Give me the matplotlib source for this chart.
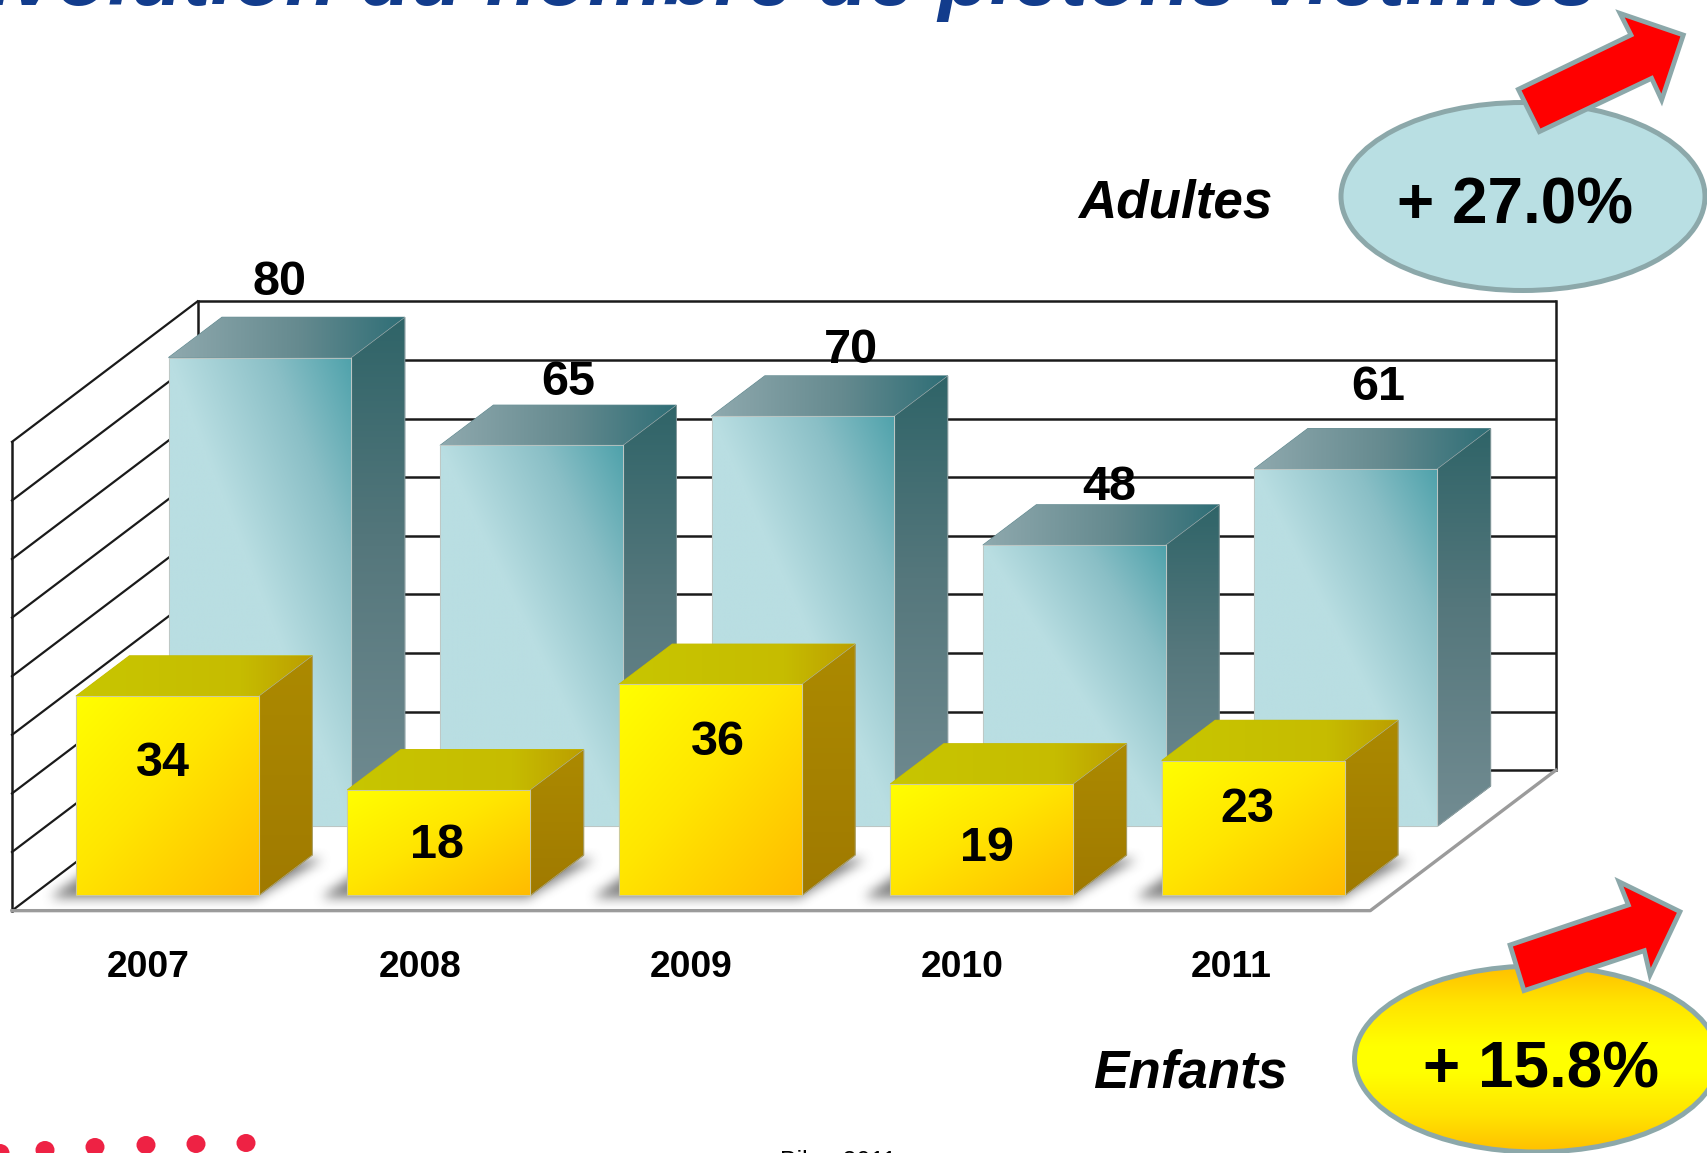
import numpy as np
import matplotlib
matplotlib.use("Agg")
import matplotlib.pyplot as plt
from matplotlib.patches import Polygon, Ellipse
from matplotlib.colors import to_rgb

FONT = "Liberation Sans"
plt.rcParams["font.family"] = [FONT, "DejaVu Sans"]

years = ["2007", "2008", "2009", "2010", "2011"]
adultes = [80, 65, 70, 48, 61]
enfants = [34, 18, 36, 19, 23]
grid_values = [0, 10, 20, 30, 40, 50, 60, 70, 80]

# label nudges in pixels (right, up)
adult_label_dx = [20, 37, 48, 35, 32]
adult_label_dy = [75, 63, 66, 58, 81]
child_label_dx = [-4, -2, 8, 5, -6]
child_label_dy = [-67, -56, -58, -64, -49]
year_label_dx = [-19, -19, -19, -20, -22]

W, H = 1708, 1153
PX_CAT = 271.45         # pixels per category
PX_VAL = 5.86           # pixels per value unit
X0, Y0 = 167.4, 895.4   # pixel of category 0 / value 0 on the front plane

BAR_W = 182.8 / PX_CAT
BAR_DX = 53.4 / PX_CAT
BAR_DY = 40.3 / PX_VAL
ADULT_DX = 92.6 / PX_CAT
ADULT_DY = 69.0 / PX_VAL
WALL_DX = 185.6 / PX_CAT
WALL_DY = 140.5 / PX_VAL
FLOOR_Y = -15.25 / PX_VAL
FLOOR_L = (12 - X0) / PX_CAT
FLOOR_R = (1370.3 - X0) / PX_CAT

fig = plt.figure(figsize=(W / 100, H / 100), dpi=100, facecolor="white")
ax = fig.add_axes([0, 0, 1, 1])
ax.axis("off")
xlim = (-X0 / PX_CAT, (W - X0) / PX_CAT)
ylim = ((Y0 - H) / PX_VAL, Y0 / PX_VAL)


def ramp(t, stops):
    pos = [s[0] for s in stops]
    rgb = np.array([to_rgb(s[1]) for s in stops])
    return np.dstack([np.interp(t, pos, rgb[:, k]) for k in range(3)])


def fill(axis, pts, fn, stops, z, edge=None, lw=0.0):
    pts = np.asarray(pts, dtype=float)
    x0, y0 = pts.min(axis=0)
    x1, y1 = pts.max(axis=0)
    u, v = np.meshgrid(np.linspace(0, 1, 256), np.linspace(1, 0, 256))
    rgb = ramp(fn(u, v), stops)
    # opaque underlay so nothing bleeds through the antialiased clip edge
    axis.add_patch(Polygon(pts, closed=True, fc=rgb.mean(axis=(0, 1)), ec=rgb.mean(axis=(0, 1)),
                           lw=0.8, zorder=z - 0.005))
    im = axis.imshow(rgb, extent=(x0, x1, y0, y1), aspect="auto",
                     zorder=z, interpolation="bilinear")
    patch = Polygon(pts, closed=True, fc="none", ec=edge or "none", lw=lw, zorder=z + 0.01)
    axis.add_patch(patch)
    im.set_clip_path(patch)


def box(x, base, val, z, front, side, top):
    l, r = x, x + BAR_W
    b, t = base, base + val
    fill(ax, [(r, b), (r + BAR_DX, b + BAR_DY), (r + BAR_DX, t + BAR_DY), (r, t)],
         lambda u, v: v, side, z, "#a8b0b0", 0.4)
    fill(ax, [(l, t), (r, t), (r + BAR_DX, t + BAR_DY), (l + BAR_DX, t + BAR_DY)],
         top[0], top[1], z)
    fill(ax, [(l, b), (r, b), (r, t), (l, t)], front[0], front[1], z + 0.02, "#c0c4c0", 0.6)


# walls and floor
back_l = FLOOR_L + WALL_DX
back_r = FLOOR_R + WALL_DX
back_b = FLOOR_Y + WALL_DY
for g in grid_values:
    ax.plot([back_l, back_r], [back_b + g] * 2, color="#1a1a1a", lw=1.8, zorder=1, solid_capstyle="butt")
    ax.plot([FLOOR_L, back_l], [FLOOR_Y + g, back_b + g], color="#1a1a1a", lw=1.6, zorder=1)
top_g = grid_values[-1]
ax.plot([FLOOR_L, FLOOR_L], [FLOOR_Y, FLOOR_Y + top_g], color="#1a1a1a", lw=1.8, zorder=1)
ax.plot([back_l, back_l], [back_b, back_b + top_g], color="#1a1a1a", lw=1.8, zorder=1)
ax.plot([back_r, back_r], [back_b, back_b + top_g], color="#1a1a1a", lw=1.8, zorder=1)
ax.plot([FLOOR_L, FLOOR_R, back_r], [FLOOR_Y, FLOOR_Y, back_b], color="#9b9b9b", lw=2.4, zorder=1.1)

# adult bars
adult_front = (lambda u, v: (u + v) / 2, [(0, "#B9DEE2"), (0.5, "#B9DEE2"), (0.78, "#8ABFC6"), (1, "#4FA2AB")])
adult_side = [(0, "#728C92"), (0.55, "#55777C"), (1, "#2F6468")]
adult_top = (lambda u, v: u, [(0, "#8FA9AE"), (0.55, "#658A8F"), (1, "#2E6E76")])
for i, v in enumerate(adultes):
    box(i - BAR_W / 2 + ADULT_DX, ADULT_DY, v, 2 + i * 0.1, adult_front, adult_side, adult_top)
    ax.annotate(str(v), (i + ADULT_DX, ADULT_DY + v),
                xytext=(adult_label_dx[i], adult_label_dy[i]), textcoords="offset pixels",
                ha="center", va="center", fontsize=35, fontweight="bold", color="black", zorder=3)


# soft shadow beneath the child bars
def shadow(x):
    px_w = BAR_W * PX_CAT
    px_dx, px_dy = BAR_DX * PX_CAT, BAR_DY * PX_VAL
    pad = 30
    nx, ny = int(px_w + px_dx + 2 * pad + 60), int(px_dy + 2 * pad)
    xs, ys = np.meshgrid(np.arange(nx) - pad - 30.0, pad - np.arange(ny) + px_dy)
    h = np.clip(ys, 0, px_dy)
    inner = (ys >= -2) & (ys <= px_dy - 4)
    inner &= xs >= -24 + h * 1.4
    inner &= xs <= px_w + h * 1.33 + 16 * h / px_dy
    m = inner.astype(float)
    kernel = np.ones(13) / 13
    for _ in range(2):
        m = np.apply_along_axis(lambda r: np.convolve(r, kernel, "same"), 0, m)
        m = np.apply_along_axis(lambda r: np.convolve(r, kernel, "same"), 1, m)
    img = np.zeros((ny, nx, 4))
    img[..., :3] = 0.42
    img[..., 3] = m * 0.85
    ax.imshow(img, extent=(x + (-pad - 30) / PX_CAT, x + (nx - pad - 30) / PX_CAT,
                           (pad + px_dy - ny) / PX_VAL, (pad + px_dy) / PX_VAL),
              aspect="auto", zorder=2.8, interpolation="bilinear")


child_front = (lambda u, v: (u + 1 - v) / 2, [(0, "#FFFF00"), (0.45, "#FFE600"), (1, "#FFBB00")])
child_side = [(0, "#A07A00"), (1, "#AC8A00")]
child_top = (lambda u, v: u, [(0, "#C8C600"), (0.7, "#C6BC00"), (1, "#BC9E00")])
for i, v in enumerate(enfants):
    shadow(i - BAR_W / 2)
for i, v in enumerate(enfants):
    box(i - BAR_W / 2, 0, v, 4 + i * 0.1, child_front, child_side, child_top)
    ax.annotate(str(v), (i, v), xytext=(child_label_dx[i], child_label_dy[i]),
                textcoords="offset pixels", ha="center", va="center", fontsize=35,
                fontweight="bold", color="black", zorder=6)

for i, y in enumerate(years):
    ax.annotate(y, (i, FLOOR_Y), xytext=(year_label_dx[i], -57), textcoords="offset pixels", ha="center",
                va="center", fontsize=26.8, fontweight="bold", color="black", zorder=6)
ax.set_xlim(*xlim)
ax.set_ylim(*ylim)

# overlay in pixel coordinates for the slide furniture
ov = fig.add_axes([0, 0, 1, 1], facecolor="none")
ov.axis("off")

EDGE = "#8CA8AA"
ov.add_patch(Ellipse((1523, 196.5), 364, 188, fc="#B9DFE3", ec=EDGE, lw=3.6, zorder=2))
# child ellipse with vertical gradient
cx, cy, a, b = 1536.5, 1059, 182, 93
im = ov.imshow(ramp(np.abs(np.linspace(-1, 1, 256))[:, None] * np.ones((256, 4)),
                    [(0, "#FFFF00"), (0.15, "#FFFF00"), (0.6, "#FFE400"), (1, "#FFC000")]),
               extent=(cx - a, cx + a, cy + b, cy - b), aspect="auto", zorder=2,
               interpolation="bilinear")
pat = Ellipse((cx, cy), 2 * a, 2 * b, fc="none", ec=EDGE, lw=3.6, zorder=2.1)
ov.add_patch(pat)
im.set_clip_path(pat)

arrow_a = np.array([(655, 268), (993, 105), (960, 40), (1150, 105), (1085, 300), (1055, 235), (718, 395)]) / 3 + (1300, 0)
arrow_e = np.array([(630, 255), (985, 135), (957, 65), (1140, 155), (1050, 345), (1033, 272), (672, 392)]) / 3 + (1300, 860)
for pts in (arrow_a, arrow_e):
    ov.add_patch(Polygon(pts, closed=True, fc="#FF0000", ec=EDGE, lw=3.4, joinstyle="miter", zorder=3))

ov.text(1515, 206, "+ 27.0%", fontsize=46, fontweight="bold", ha="center", va="center", zorder=5)
ov.text(1541, 1070, "+ 15.8%", fontsize=46, fontweight="bold", ha="center", va="center", zorder=5)
ov.text(1175, 204, "Adultes", fontsize=38.2, fontweight="bold", style="italic", ha="center", va="center", zorder=5)
ov.text(1190, 1074, "Enfants", fontsize=38.2, fontweight="bold", style="italic", ha="center", va="center", zorder=5)

ov.text(1597, 5, "Évolution du nombre de piétons victimes", fontsize=60.5, fontweight="bold",
        style="italic", color="#123C8C", ha="right", va="baseline", zorder=5)
ov.text(838, 1169, "Bilan 2011", fontsize=18, color="black", ha="center", va="baseline", zorder=5)

for x, y in zip([0, 45, 95, 146, 196, 246], [1153, 1150, 1147, 1145, 1144, 1143]):
    ov.add_patch(Ellipse((x, y), 19, 18, fc="#EE2244", ec="none", zorder=4))

ov.set_xlim(0, W)
ov.set_ylim(H, 0)

fig.savefig("out.png", dpi=100)
